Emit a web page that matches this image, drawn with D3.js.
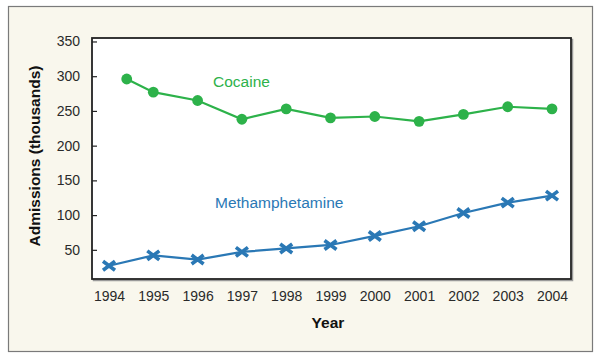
<!DOCTYPE html>
<html>
<head>
<meta charset="utf-8">
<script src="https://cdn.jsdelivr.net/npm/d3@7"></script>
<style>
  body { margin: 0; background: #fff; }
  svg { display: block; font-family: "Liberation Sans", Arial, Helvetica, sans-serif; }
  .tick text { fill: #2a2a2a; font-size: 14px; }
  .axis-label { font-weight: bold; font-size: 15.5px; fill: #111; }
</style>
</head>
<body>
<div id="chart"></div>
<script>
// admissions in thousands
const years = [1994, 1995, 1996, 1997, 1998, 1999, 2000, 2001, 2002, 2003, 2004];
// first cocaine point sits a little right of the 1994 tick in the original
const cocaineYears = [1994.4, 1995, 1996, 1997, 1998, 1999, 2000, 2001, 2002, 2003, 2004];
const cocaine = [296, 277, 265, 238, 253, 240, 242, 235, 245, 256, 253];
const meth = [27, 42, 36, 47, 52, 57, 70, 84, 103, 118, 128];
const yTicks = [50, 100, 150, 200, 250, 300, 350];

const config = {
  width: 600,
  height: 363,
  margin: {top: 38, right: 29, bottom: 84, left: 92},
  green: "#2db24a",
  blue: "#2a78b5"
};

const innerW = config.width - config.margin.left - config.margin.right;
const innerH = config.height - config.margin.top - config.margin.bottom;

const svg = d3.select("#chart").append("svg")
    .attr("width", config.width)
    .attr("height", config.height);

// cream outer panel
svg.append("rect")
    .attr("x", 8.5)
    .attr("y", 6.5)
    .attr("width", 584)
    .attr("height", 345)
    .attr("fill", "#f9f7ed")
    .attr("stroke", "#7a7a7a")
    .attr("stroke-width", 1.2);

const chart = svg.append("g")
    .attr("transform", `translate(${config.margin.left},${config.margin.top})`);

const x = d3.scaleLinear()
    .domain([1994, 2004])
    .range([17, 460]);

const y = d3.scaleLinear()
    .domain([8, 355])
    .range([innerH, 0]);

// plot frame with a soft shadow on the right/bottom
chart.append("rect")
    .attr("x", 1.5)
    .attr("y", 1.5)
    .attr("width", innerW)
    .attr("height", innerH)
    .attr("fill", "none")
    .attr("stroke", "#9a9a9a")
    .attr("stroke-width", 1.5);

chart.append("rect")
    .attr("width", innerW)
    .attr("height", innerH)
    .attr("fill", "#fff")
    .attr("stroke", "#222")
    .attr("stroke-width", 1.8);

// y axis: short inner ticks
const yAxis = d3.axisLeft(y)
    .tickValues(yTicks)
    .tickSizeInner(-5)
    .tickSizeOuter(0)
    .tickPadding(12);

const yAxisG = chart.append("g").call(yAxis);
yAxisG.select(".domain").remove();
yAxisG.selectAll(".tick line").attr("stroke", "#222").attr("stroke-width", 1.2);

// x axis: labels only
const xAxis = d3.axisBottom(x)
    .tickValues(years)
    .tickFormat(d3.format("d"))
    .tickSize(0)
    .tickPadding(12);

const xAxisG = chart.append("g")
    .attr("transform", `translate(0,${innerH})`)
    .call(xAxis);
xAxisG.select(".domain").remove();

const line = d3.line()
    .x(d => x(d[0]))
    .y(d => y(d[1]));

const cocaineData = d3.zip(cocaineYears, cocaine);
const methData = d3.zip(years, meth);

chart.append("path")
    .datum(cocaineData)
    .attr("fill", "none")
    .attr("stroke", config.green)
    .attr("stroke-width", 2.2)
    .attr("d", line);

chart.selectAll(".coc-dot")
    .data(cocaineData)
  .join("circle")
    .attr("class", "coc-dot")
    .attr("cx", d => x(d[0]))
    .attr("cy", d => y(d[1]))
    .attr("r", 5.4)
    .attr("fill", config.green);

chart.append("path")
    .datum(methData)
    .attr("fill", "none")
    .attr("stroke", config.blue)
    .attr("stroke-width", 2.2)
    .attr("d", line);

const s = 6;
chart.selectAll(".meth-x")
    .data(methData)
  .join("path")
    .attr("class", "meth-x")
    .attr("transform", d => `translate(${x(d[0])},${y(d[1])})`)
    .attr("d", `M${-s},${-s * 0.75}L${s},${s * 0.75}M${-s},${s * 0.75}L${s},${-s * 0.75}`)
    .attr("stroke", config.blue)
    .attr("stroke-width", 3.6)
    .attr("fill", "none");

// series labels
chart.append("text")
    .attr("x", 121)
    .attr("y", 49)
    .attr("fill", config.green)
    .style("font-size", "15.5px")
    .text("Cocaine");

chart.append("text")
    .attr("x", 123)
    .attr("y", 170)
    .attr("fill", config.blue)
    .style("font-size", "15.5px")
    .text("Methamphetamine");

// axis titles
svg.append("text")
    .attr("class", "axis-label")
    .attr("x", 328)
    .attr("y", 328)
    .attr("text-anchor", "middle")
    .text("Year");

svg.append("text")
    .attr("class", "axis-label")
    .attr("transform", "translate(40,156) rotate(-90)")
    .attr("text-anchor", "middle")
    .text("Admissions (thousands)");
</script>
</body>
</html>
